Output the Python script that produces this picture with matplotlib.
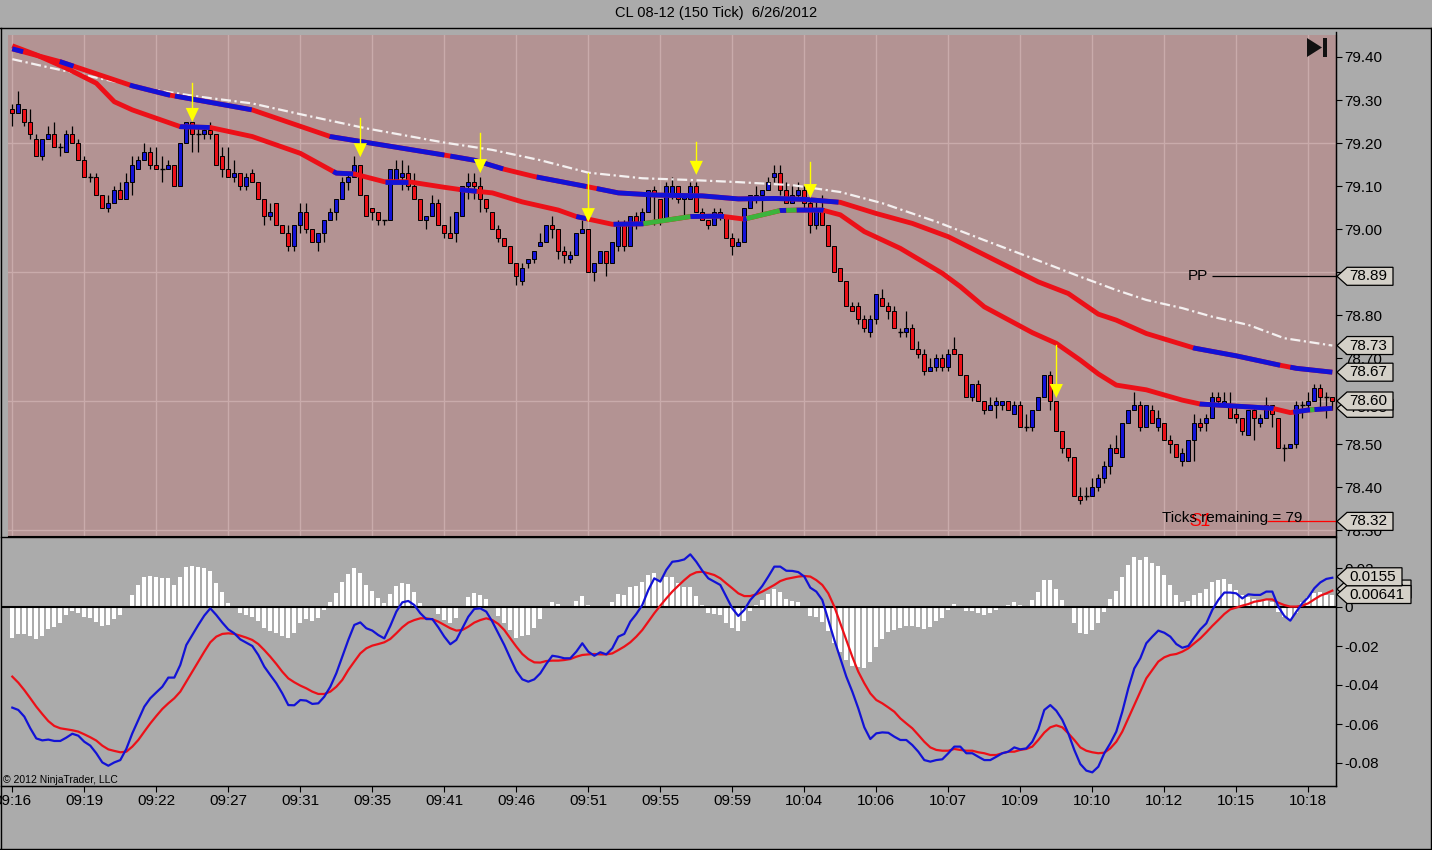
import numpy as np
import matplotlib
matplotlib.use("Agg")
import matplotlib.pyplot as plt
from matplotlib.patches import Polygon, Rectangle
from matplotlib.lines import Line2D
from matplotlib.transforms import IdentityTransform

plt.rcParams['font.family'] = ['Liberation Sans', 'DejaVu Sans']

# ---- data (150 tick bars, CL 08-12) ----
opens = [79.28,79.27,79.28,79.25,79.21,79.17,79.21,79.22,79.19,79.18,
         79.22,79.20,79.16,79.12,79.12,79.08,79.05,79.06,79.09,79.07,
         79.11,79.14,79.16,79.18,79.15,79.14,79.14,79.15,79.10,79.20,
         79.25,79.22,79.22,79.23,79.22,79.17,79.14,79.12,79.13,79.10,
         79.13,79.11,79.07,79.03,79.06,79.01,78.99,78.96,79.01,79.04,
         79.00,78.97,78.99,79.02,79.04,79.07,79.11,79.12,79.15,79.08,
         79.05,79.04,79.02,79.02,79.11,79.12,79.13,79.10,79.07,79.02,
         79.03,79.06,79.01,78.99,78.99,79.03,79.10,79.11,79.10,79.07,
         79.04,79.00,78.98,78.96,78.92,78.88,78.92,78.93,78.96,78.97,
         79.01,79.00,78.95,78.93,78.94,78.99,79.00,78.90,78.92,78.95,
         78.92,78.96,79.01,78.96,79.03,79.01,79.04,79.09,79.07,79.02,
         79.08,79.10,79.07,79.07,79.10,79.04,79.02,79.01,79.04,79.03,
         78.98,78.96,78.97,79.05,79.07,79.08,79.09,79.12,79.13,79.09,
         79.06,79.08,79.09,79.06,79.01,79.05,79.01,78.96,78.91,78.88,
         78.82,78.82,78.79,78.76,78.79,78.84,78.82,78.81,78.76,78.76,
         78.77,78.72,78.71,78.67,78.68,78.70,78.68,78.72,78.71,78.66,
         78.61,78.64,78.60,78.58,78.59,78.59,78.60,78.57,78.59,78.54,
         78.54,78.58,78.61,78.66,78.60,78.53,78.49,78.47,78.38,78.38,
         78.38,78.40,78.42,78.45,78.49,78.47,78.55,78.58,78.59,78.54,
         78.58,78.54,78.55,78.51,78.50,78.46,78.46,78.51,78.55,78.55,
         78.56,78.61,78.59,78.59,78.57,78.56,78.52,78.58,78.55,78.56,
         78.59,78.56,78.49,78.49,78.50,78.59,78.59,78.60,78.63,78.61,78.61]
highs = [79.29,79.32,79.28,79.28,79.22,79.21,79.24,79.25,79.20,79.23,
         79.24,79.21,79.17,79.13,79.13,79.08,79.08,79.10,79.11,79.13,
         79.17,79.17,79.20,79.19,79.19,79.17,79.16,79.15,79.20,79.25,
         79.25,79.24,79.24,79.25,79.22,79.19,79.19,79.16,79.13,79.13,
         79.14,79.11,79.07,79.06,79.06,79.01,79.01,79.01,79.06,79.06,
         79.00,78.99,79.02,79.05,79.07,79.12,79.13,79.17,79.15,79.08,
         79.05,79.04,79.02,79.14,79.16,79.16,79.15,79.13,79.07,79.03,
         79.08,79.07,79.01,79.03,79.04,79.10,79.13,79.13,79.12,79.07,
         79.04,79.01,78.98,78.96,78.92,78.92,78.93,78.95,78.99,79.01,
         79.03,79.00,78.96,78.95,78.99,79.02,79.00,78.92,78.95,78.95,
         78.97,79.02,79.02,79.03,79.04,79.05,79.09,79.10,79.07,79.11,
         79.12,79.10,79.08,79.11,79.11,79.05,79.02,79.05,79.05,79.03,
         78.99,78.98,79.05,79.08,79.10,79.09,79.12,79.15,79.15,79.11,
         79.10,79.11,79.10,79.07,79.07,79.08,79.01,78.96,78.91,78.88,
         78.83,78.83,78.80,78.80,78.85,78.86,78.83,78.82,78.77,78.81,
         78.78,78.74,78.72,78.70,78.71,78.71,78.72,78.75,78.71,78.66,
         78.64,78.65,78.60,78.61,78.61,78.60,78.60,78.60,78.60,78.57,
         78.58,78.61,78.66,78.67,78.60,78.53,78.49,78.47,78.40,78.40,
         78.42,78.43,78.46,78.50,78.52,78.55,78.58,78.62,78.60,78.59,
         78.59,78.58,78.55,78.52,78.50,78.49,78.51,78.57,78.56,78.57,
         78.62,78.62,78.62,78.62,78.59,78.56,78.58,78.59,78.57,78.61,
         78.59,78.56,78.50,78.50,78.60,78.60,78.62,78.64,78.64,78.62,78.61]
lows = [79.24,79.27,79.24,79.21,79.17,79.16,79.21,79.19,79.17,79.18,
        79.20,79.16,79.12,79.11,79.08,79.05,79.04,79.06,79.07,79.07,
        79.08,79.14,79.16,79.14,79.14,79.11,79.14,79.10,79.10,79.20,
        79.18,79.18,79.21,79.21,79.15,79.12,79.12,79.11,79.09,79.09,
        79.11,79.07,79.01,79.02,79.01,78.99,78.95,78.95,78.99,78.99,
        78.97,78.95,78.97,79.02,79.02,79.07,79.09,79.12,79.08,79.03,
        79.02,79.01,79.01,79.02,79.11,79.09,79.09,79.07,79.02,79.00,
        79.03,79.01,78.98,78.98,78.97,79.03,79.07,79.07,79.04,79.04,
        79.00,78.97,78.96,78.92,78.87,78.87,78.91,78.92,78.96,78.97,
        78.98,78.93,78.92,78.92,78.94,78.99,78.90,78.88,78.92,78.89,
        78.92,78.95,78.95,78.96,79.00,79.01,79.04,79.01,79.01,79.02,
        79.07,79.06,79.03,79.07,79.04,79.02,79.00,79.01,79.02,78.98,
        78.94,78.96,78.97,79.05,79.06,79.04,79.09,79.11,79.08,79.06,
        79.06,79.07,79.05,78.99,79.00,79.01,78.96,78.90,78.88,78.82,
        78.81,78.78,78.76,78.75,78.78,78.82,78.79,78.77,78.75,78.75,
        78.72,78.70,78.66,78.67,78.67,78.67,78.67,78.71,78.66,78.61,
        78.60,78.60,78.57,78.58,78.56,78.58,78.58,78.57,78.54,78.53,
        78.53,78.58,78.61,78.58,78.53,78.48,78.46,78.38,78.36,78.37,
        78.38,78.39,78.41,78.43,78.48,78.47,78.55,78.58,78.53,78.54,
        78.55,78.53,78.51,78.48,78.47,78.45,78.46,78.46,78.53,78.53,
        78.56,78.59,78.59,78.56,78.55,78.52,78.52,78.51,78.54,78.56,
        78.54,78.49,78.46,78.49,78.49,78.56,78.58,78.60,78.58,78.56,78.58]
closes = [79.27,79.29,79.25,79.22,79.17,79.21,79.22,79.19,79.19,79.22,
          79.20,79.16,79.12,79.12,79.08,79.05,79.06,79.09,79.07,79.11,
          79.15,79.16,79.18,79.15,79.14,79.14,79.15,79.10,79.20,79.25,
          79.22,79.22,79.23,79.22,79.15,79.14,79.12,79.13,79.10,79.12,
          79.11,79.07,79.03,79.04,79.01,78.99,78.96,79.01,79.04,79.00,
          78.97,78.99,79.02,79.04,79.07,79.11,79.12,79.15,79.08,79.03,
          79.04,79.02,79.02,79.14,79.14,79.13,79.10,79.07,79.02,79.03,
          79.06,79.01,78.99,78.98,79.04,79.10,79.11,79.10,79.07,79.05,
          79.00,78.98,78.96,78.92,78.89,78.91,78.93,78.95,78.97,79.01,
          79.00,78.95,78.94,78.94,78.99,79.00,78.90,78.92,78.95,78.92,
          78.97,79.01,78.96,79.03,79.01,79.04,79.09,79.08,79.02,79.10,
          79.10,79.07,79.08,79.10,79.04,79.02,79.01,79.04,79.03,78.98,
          78.96,78.97,79.05,79.08,79.08,79.09,79.11,79.13,79.09,79.06,
          79.08,79.09,79.06,79.01,79.05,79.01,78.96,78.90,78.88,78.82,
          78.81,78.79,78.77,78.79,78.85,78.82,78.81,78.77,78.76,78.77,
          78.72,78.71,78.67,78.68,78.70,78.68,78.71,78.71,78.66,78.61,
          78.64,78.60,78.58,78.59,78.60,78.60,78.58,78.59,78.54,78.54,
          78.58,78.61,78.66,78.60,78.53,78.49,78.47,78.38,78.37,78.38,
          78.40,78.42,78.45,78.49,78.48,78.55,78.58,78.59,78.54,78.59,
          78.55,78.56,78.51,78.50,78.47,78.48,78.51,78.55,78.54,78.56,
          78.61,78.60,78.60,78.56,78.56,78.53,78.58,78.56,78.56,78.59,
          78.57,78.49,78.49,78.50,78.59,78.59,78.60,78.63,78.61,78.61,78.60]

# moving averages, read at sample bars
ma_slow_bars = [0, 8, 20, 26, 40, 53, 72, 77, 82, 87, 96, 101, 107, 115, 121, 127, 132,
                138, 144, 150, 156, 162, 167, 171, 176, 181, 184, 189, 197, 204, 211, 214, 220]
ma_slow = [79.419, 79.389, 79.333, 79.312, 79.277, 79.215, 79.172, 79.160, 79.139, 79.122,
           79.098, 79.084, 79.079, 79.077, 79.070, 79.071, 79.069, 79.062, 79.036, 79.013,
           78.982, 78.940, 78.905, 78.877, 78.850, 78.802, 78.788, 78.757, 78.723, 78.705,
           78.684, 78.676, 78.667]
ma_slow_blue = [(0, 1.8), (7.9, 10.2), (19.6, 26.3), (27.1, 39.9), (52.9, 72.0), (73.0, 81.8),
                (87.4, 95.7), (97.4, 137.7), (196.8, 211.3), (213.0, 220.0)]

ma_fast_bars = [0, 4, 9, 14, 17, 20, 28, 33, 40, 48, 54, 57, 62, 66, 72, 75, 80, 85, 91, 94,
                100, 105, 113, 118, 122, 128, 131, 135, 138, 142, 148, 155, 158, 162, 170, 174,
                178, 181, 184, 189, 195, 198, 204, 210, 213, 216, 220]
ma_fast = [79.426, 79.405, 79.374, 79.339, 79.296, 79.277, 79.238, 79.236, 79.215, 79.176,
           79.130, 79.128, 79.110, 79.110, 79.097, 79.091, 79.084, 79.063, 79.044, 79.029,
           79.011, 79.012, 79.029, 79.030, 79.023, 79.043, 79.044, 79.044, 79.033, 78.994,
           78.955, 78.897, 78.866, 78.819, 78.759, 78.734, 78.695, 78.663, 78.637, 78.626,
           78.602, 78.593, 78.588, 78.583, 78.573, 78.579, 78.583]
ma_fast_blue = [(27.9, 32.9), (53.5, 56.8), (62.1, 66.0), (74.6, 77.4), (94.0, 95.7),
                (100.2, 105.2), (113.0, 118.6), (121.8, 122.4), (127.9, 129.0), (130.7, 135.2),
                (197.9, 210.2), (213.5, 216.3), (217.0, 220.0)]
ma_fast_green = [(105.2, 113.0), (122.4, 127.9), (129.0, 130.7), (216.3, 217.0)]

ma_long_bars = [0, 6, 14, 23, 31, 40, 48, 59, 72, 80, 88, 96, 105, 113, 121, 130, 138, 145,
                154, 162, 170, 178, 184, 189, 195, 200, 206, 212, 220]
ma_long = [79.395, 79.376, 79.352, 79.325, 79.308, 79.292, 79.267, 79.234, 79.201, 79.184,
           79.160, 79.131, 79.118, 79.114, 79.109, 79.102, 79.086, 79.060, 79.017, 78.974,
           78.932, 78.889, 78.858, 78.835, 78.816, 78.796, 78.777, 78.746, 78.729]

arrow_bars = [30, 58, 78, 96, 114, 133, 174]
arrow_tips = [79.249, 79.167, 79.130, 79.016, 79.126, 79.072, 78.607]
arrow_tops = [79.340, 79.258, 79.223, 79.130, 79.202, 79.156, 78.730]

pivot_pp = 78.89
pivot_s1 = 78.32
ticks_remaining = 79

# MACD panel
macd = [-0.0516,-0.0528,-0.0562,-0.0622,-0.0674,-0.0684,-0.0680,-0.0687,-0.0687,-0.0670,
        -0.0650,-0.0660,-0.0691,-0.0711,-0.0750,-0.0797,-0.0814,-0.0797,-0.0785,-0.0728,
        -0.0648,-0.0579,-0.0511,-0.0468,-0.0438,-0.0409,-0.0362,-0.0362,-0.0297,-0.0195,
        -0.0144,-0.0092,-0.0044,-0.0007,-0.0041,-0.0080,-0.0115,-0.0135,-0.0166,-0.0183,
        -0.0200,-0.0246,-0.0306,-0.0349,-0.0391,-0.0443,-0.0503,-0.0504,-0.0477,-0.0480,
        -0.0497,-0.0494,-0.0460,-0.0409,-0.0340,-0.0255,-0.0169,-0.0092,-0.0079,-0.0109,
        -0.0121,-0.0144,-0.0161,-0.0097,-0.0024,0.0024,0.0031,0.0010,-0.0032,-0.0062,
        -0.0062,-0.0104,-0.0152,-0.0191,-0.0169,-0.0109,-0.0050,-0.0010,-0.0007,-0.0024,
        -0.0075,-0.0135,-0.0195,-0.0263,-0.0328,-0.0371,-0.0383,-0.0371,-0.0340,-0.0292,
        -0.0250,-0.0255,-0.0263,-0.0263,-0.0229,-0.0186,-0.0229,-0.0250,-0.0232,-0.0243,
        -0.0212,-0.0152,-0.0138,-0.0075,-0.0036,0.0010,0.0087,0.0147,0.0130,0.0190,
        0.0232,0.0236,0.0244,0.0270,0.0232,0.0186,0.0147,0.0130,0.0113,0.0053,
        -0.0007,-0.0046,-0.0015,0.0036,0.0070,0.0108,0.0156,0.0207,0.0207,0.0186,
        0.0185,0.0179,0.0156,0.0099,0.0079,0.0036,-0.0067,-0.0169,-0.0263,-0.0357,
        -0.0434,-0.0520,-0.0617,-0.0677,-0.0648,-0.0643,-0.0645,-0.0665,-0.0682,-0.0682,
        -0.0708,-0.0742,-0.0785,-0.0793,-0.0785,-0.0781,-0.0750,-0.0716,-0.0716,-0.0750,
        -0.0750,-0.0768,-0.0785,-0.0785,-0.0768,-0.0750,-0.0742,-0.0720,-0.0730,-0.0725,
        -0.0691,-0.0627,-0.0528,-0.0503,-0.0532,-0.0579,-0.0648,-0.0733,-0.0805,-0.0839,
        -0.0848,-0.0819,-0.0750,-0.0699,-0.0639,-0.0537,-0.0417,-0.0315,-0.0263,-0.0186,
        -0.0152,-0.0121,-0.0132,-0.0152,-0.0190,-0.0209,-0.0200,-0.0156,-0.0115,-0.0084,
        -0.0015,0.0036,0.0074,0.0074,0.0070,0.0044,0.0065,0.0062,0.0062,0.0079,
        0.0079,0.0002,-0.0046,-0.0070,-0.0024,0.0019,0.0050,0.0096,0.0126,0.0144,0.0150]
signal = [-0.0357,-0.0388,-0.0426,-0.0468,-0.0511,-0.0549,-0.0585,-0.0610,-0.0622,-0.0627,
          -0.0632,-0.0639,-0.0653,-0.0668,-0.0685,-0.0711,-0.0730,-0.0738,-0.0745,-0.0742,
          -0.0716,-0.0682,-0.0639,-0.0597,-0.0559,-0.0523,-0.0494,-0.0468,-0.0434,-0.0383,
          -0.0332,-0.0280,-0.0229,-0.0181,-0.0152,-0.0138,-0.0135,-0.0138,-0.0147,-0.0157,
          -0.0169,-0.0190,-0.0221,-0.0255,-0.0292,-0.0332,-0.0366,-0.0386,-0.0403,-0.0417,
          -0.0434,-0.0446,-0.0446,-0.0434,-0.0409,-0.0374,-0.0323,-0.0280,-0.0238,-0.0212,
          -0.0198,-0.0190,-0.0181,-0.0164,-0.0135,-0.0104,-0.0080,-0.0067,-0.0058,-0.0058,
          -0.0063,-0.0075,-0.0092,-0.0109,-0.0121,-0.0118,-0.0101,-0.0080,-0.0067,-0.0058,
          -0.0067,-0.0087,-0.0118,-0.0161,-0.0203,-0.0241,-0.0267,-0.0284,-0.0285,-0.0277,
          -0.0275,-0.0275,-0.0272,-0.0267,-0.0255,-0.0246,-0.0243,-0.0241,-0.0243,-0.0243,
          -0.0238,-0.0221,-0.0203,-0.0181,-0.0152,-0.0118,-0.0075,-0.0032,0.0007,0.0044,
          0.0079,0.0109,0.0138,0.0164,0.0178,0.0181,0.0173,0.0164,0.0147,0.0121,
          0.0096,0.0070,0.0056,0.0056,0.0065,0.0079,0.0096,0.0113,0.0133,0.0144,
          0.0150,0.0156,0.0159,0.0156,0.0138,0.0113,0.0070,0.0002,-0.0084,-0.0169,
          -0.0255,-0.0332,-0.0391,-0.0443,-0.0477,-0.0494,-0.0515,-0.0537,-0.0571,-0.0597,
          -0.0622,-0.0656,-0.0691,-0.0720,-0.0733,-0.0737,-0.0737,-0.0728,-0.0733,-0.0737,
          -0.0737,-0.0745,-0.0750,-0.0759,-0.0759,-0.0750,-0.0742,-0.0742,-0.0733,-0.0728,
          -0.0716,-0.0682,-0.0644,-0.0617,-0.0607,-0.0617,-0.0648,-0.0682,-0.0720,-0.0737,
          -0.0745,-0.0750,-0.0747,-0.0725,-0.0691,-0.0639,-0.0571,-0.0503,-0.0434,-0.0366,
          -0.0323,-0.0280,-0.0258,-0.0246,-0.0241,-0.0229,-0.0212,-0.0186,-0.0161,-0.0130,
          -0.0097,-0.0067,-0.0036,-0.0012,-0.0003,0.0007,0.0015,0.0027,0.0032,0.0039,
          0.0039,0.0022,0.0010,0.0002,0.0002,0.0007,0.0019,0.0039,0.0058,0.0070,0.0084]
hist = [-0.0157,-0.0140,-0.0140,-0.0147,-0.0166,-0.0149,-0.0115,-0.0104,-0.0080,-0.0041,
        -0.0021,-0.0032,-0.0053,-0.0058,-0.0075,-0.0096,-0.0092,-0.0063,-0.0041,-0.0003,
        0.0062,0.0113,0.0156,0.0159,0.0156,0.0150,0.0150,0.0113,0.0156,0.0207,
        0.0210,0.0207,0.0198,0.0185,0.0121,0.0075,0.0019,0.0000,-0.0032,-0.0041,
        -0.0050,-0.0072,-0.0109,-0.0121,-0.0132,-0.0149,-0.0161,-0.0132,-0.0080,-0.0062,
        -0.0070,-0.0058,-0.0015,0.0024,0.0070,0.0130,0.0168,0.0198,0.0176,0.0113,
        0.0082,0.0044,0.0022,0.0067,0.0108,0.0125,0.0116,0.0075,0.0022,-0.0007,
        -0.0007,-0.0036,-0.0067,-0.0084,-0.0055,-0.0002,0.0050,0.0070,0.0062,0.0041,
        -0.0003,-0.0046,-0.0084,-0.0118,-0.0161,-0.0147,-0.0144,-0.0106,-0.0062,-0.0003,
        0.0024,0.0015,0.0005,0.0002,0.0031,0.0056,0.0010,0.0002,0.0002,0.0002,
        0.0026,0.0065,0.0062,0.0104,0.0108,0.0126,0.0164,0.0173,0.0135,0.0152,
        0.0152,0.0125,0.0104,0.0104,0.0056,0.0010,-0.0029,-0.0036,-0.0041,-0.0080,
        -0.0109,-0.0121,-0.0070,-0.0019,0.0010,0.0036,0.0067,0.0092,0.0079,0.0041,
        0.0031,0.0026,-0.0002,-0.0046,-0.0053,-0.0075,-0.0121,-0.0183,-0.0229,-0.0272,
        -0.0303,-0.0306,-0.0311,-0.0284,-0.0203,-0.0164,-0.0130,-0.0118,-0.0109,-0.0096,
        -0.0097,-0.0101,-0.0115,-0.0104,-0.0072,-0.0058,-0.0015,0.0014,0.0003,-0.0019,
        -0.0019,-0.0029,-0.0041,-0.0029,-0.0015,0.0003,0.0009,0.0027,0.0009,0.0005,
        0.0036,0.0075,0.0138,0.0138,0.0091,0.0036,-0.0002,-0.0084,-0.0132,-0.0138,
        -0.0118,-0.0080,-0.0024,0.0039,0.0082,0.0156,0.0215,0.0258,0.0241,0.0258,
        0.0227,0.0210,0.0164,0.0113,0.0062,0.0027,0.0031,0.0062,0.0074,0.0091,
        0.0130,0.0138,0.0142,0.0118,0.0087,0.0062,0.0050,0.0039,0.0032,0.0036,
        0.0027,-0.0024,-0.0050,-0.0067,-0.0029,0.0027,0.0053,0.0074,0.0079,0.0062,0.0062]

time_labels = ['09:16', '09:19', '09:22', '09:27', '09:31', '09:35', '09:41', '09:46', '09:51',
               '09:55', '09:59', '10:04', '10:06', '10:07', '10:09', '10:10', '10:12', '10:15',
               '10:18']
bars_per_label = 12
price_ticks = [79.40, 79.30, 79.20, 79.10, 79.00, 78.90, 78.80, 78.70, 78.60, 78.50, 78.40, 78.30]
price_grid = [79.20, 78.90, 78.60, 78.30]
macd_ticks = [0.02, 0.0, -0.02, -0.04, -0.06, -0.08]
macd_tick_labels = ['0.02', '0', '-0.02', '-0.04', '-0.06', '-0.08']
hidden_tag_value = 0.0092

n = len(closes)
for arr in (opens, highs, lows, macd, signal, hist):
    assert len(arr) == n, len(arr)

# ---- colours ----
GRAY = '#ababab'
PINK = '#b39393'
GRID = '#c9abab'
RED = '#ec1018'
BLUE = '#1212d6'
GREEN = '#3cb43c'
TAG = '#d4d0c8'

W, H = 1432, 850
fig = plt.figure(figsize=(W / 100, H / 100), dpi=100, facecolor=GRAY)


def fx(px):
    return px / W


def fy(py):
    return 1 - py / H


# bar i sits at pixel 12.3 + 6 i
def bar_at(px):
    return (px - 12.3) / 6.0


ax1 = fig.add_axes([fx(8), fy(536), fx(1336) - fx(8), fy(35) - fy(536)])
ax2 = fig.add_axes([fx(1), fy(786), fx(1336) - fx(1), fy(538) - fy(786)])

ax1.set_xlim(bar_at(8), bar_at(1336))
ax1.set_ylim(79.40 - (536 - 57) / 430, 79.40 + (57 - 35) / 430)
ax2.set_xlim(bar_at(1), bar_at(1336))
ax2.set_ylim((607 - 786) / 1950, (607 - 538) / 1950)

ax1.set_facecolor(PINK)
ax2.set_facecolor(GRAY)

idx = np.arange(n)
o = np.array(opens)
h = np.array(highs)
l = np.array(lows)
c = np.array(closes)

# grid
grid_bars = np.arange(0, n, bars_per_label)
for gb in grid_bars:
    ax1.axvline(gb, color=GRID, lw=1, zorder=0.5)
for gp in price_grid:
    ax1.axhline(gp, color=GRID, lw=1, zorder=0.5)

# candles
ax1.vlines(idx, l, h, color='black', lw=0.9, zorder=3)
body_lo = np.minimum(o, c)
body_h = np.abs(c - o)
has_body = body_h > 0.004
cols = np.where(c > o, BLUE, RED)
ax1.bar(idx[has_body], body_h[has_body], 0.72, bottom=body_lo[has_body],
        color=cols[has_body], edgecolor='black', lw=0.7, zorder=4)
ax1.hlines(c[~has_body], idx[~has_body] - 0.4, idx[~has_body] + 0.4,
           color='black', lw=1.0, zorder=4)


def span_line(ax, xs, ys, spans, color, lw, z):
    for a, b in spans:
        px = [a] + [x for x in xs if a < x < b] + [b]
        py = [np.interp(a, xs, ys)] + [y for x, y in zip(xs, ys) if a < x < b] + [np.interp(b, xs, ys)]
        ax.plot(px, py, color=color, lw=lw, solid_capstyle='butt', zorder=z)


# white long average (dash-dot)
ax1.plot(ma_long_bars, ma_long, color='#f4f0f0', lw=1.6, dashes=(4.5, 1.6, 1.0, 1.6), zorder=5)
# slower thick average
ax1.plot(ma_slow_bars, ma_slow, color=RED, lw=3.5, solid_capstyle='butt', zorder=6)
span_line(ax1, ma_slow_bars, ma_slow, ma_slow_blue, BLUE, 3.5, 6.1)
# faster thick average
ax1.plot(ma_fast_bars, ma_fast, color=RED, lw=3.5, solid_capstyle='butt', zorder=6)
span_line(ax1, ma_fast_bars, ma_fast, ma_fast_blue, BLUE, 3.5, 6.1)
span_line(ax1, ma_fast_bars, ma_fast, ma_fast_green, GREEN, 3.5, 6.1)

# yellow arrows
head_h = 14 / 430
for ab, tip, top in zip(arrow_bars, arrow_tips, arrow_tops):
    ax1.plot([ab, ab], [tip + head_h * 0.5, top], color='#ffff00', lw=1.0, zorder=7)
    ax1.add_patch(Polygon([[ab - 1.1, tip + head_h], [ab + 1.1, tip + head_h], [ab, tip]],
                          closed=True, facecolor='#ffff00', edgecolor='none', zorder=7))

# pivot lines and texts
ax1.hlines(pivot_pp, bar_at(1212), bar_at(1336), color='black', lw=0.9, zorder=5)
ax1.text(bar_at(1208), pivot_pp, 'PP', ha='right', va='center', fontsize=11, zorder=8)
ax1.hlines(pivot_s1, bar_at(1267), bar_at(1336), color='#ff0000', lw=0.9, zorder=5)
ax1.text(bar_at(1189), pivot_s1, 'S1', ha='left', va='center', fontsize=13, color='#ff0000',
         style='italic', zorder=7)
ax1.text(bar_at(1302), pivot_s1 + 0.007, 'Ticks remaining = %d' % ticks_remaining,
         ha='right', va='center', fontsize=11, zorder=8)

# axes cosmetics
for ax in (ax1, ax2):
    for side in ('left', 'top'):
        ax.spines[side].set_visible(False)
    ax.spines['right'].set_color('black')
    ax.spines['bottom'].set_color('black')
    ax.yaxis.tick_right()
    ax.tick_params(axis='y', direction='out', length=4, width=0.8, pad=2, labelsize=11,
                   colors='black')

ax1.set_yticks(price_ticks)
ax1.set_yticklabels(['%.2f' % v for v in price_ticks])
ax1.set_xticks(grid_bars)
ax1.tick_params(axis='x', length=0, labelbottom=False)

# MACD panel
ax2.bar(idx, hist, 0.68, color='white', edgecolor='none', zorder=2)
ax2.axhline(0, color='black', lw=1.5, zorder=2.5)
ax2.plot(idx, signal, color=RED, lw=1.6, zorder=3)
ax2.plot(idx, macd, color=BLUE, lw=1.6, zorder=3.1)
ax2.set_yticks(macd_ticks)
ax2.set_yticklabels(macd_tick_labels)
ax2.set_xticks(grid_bars)
ax2.set_xticklabels(time_labels)
ax2.tick_params(axis='x', direction='out', length=4, width=0.8, pad=2, labelsize=11)

# ---- figure furniture in pixel coordinates ----
ID = IdentityTransform()


def hline_px(x0, x1, y, **kw):
    fig.add_artist(Line2D([x0, x1], [H - y, H - y], transform=ID, **kw))


def vline_px(x, y0, y1, **kw):
    fig.add_artist(Line2D([x, x], [H - y0, H - y1], transform=ID, **kw))


hline_px(0, W, 27.5, color='black', lw=1)
hline_px(0, W, 848.5, color='black', lw=1)
vline_px(0.8, 27.5, 849, color='black', lw=1)
vline_px(W - 1.2, 27.5, 849, color='black', lw=1)
vline_px(1336, 32, 786, color='black', lw=1)
hline_px(1, 1336, 536.5, color='black', lw=1)
hline_px(1, 1336, 786, color='black', lw=1)

fig.text(fx(716), fy(13), 'CL 08-12 (150 Tick)  6/26/2012', ha='center', va='center', fontsize=10.5)
fig.text(fx(3), fy(780), '\u00a9 2012 NinjaTrader, LLC', ha='left', va='center', fontsize=7.5)

# play-to-end icon
fig.add_artist(Polygon([[1307, H - 38], [1307, H - 57], [1322, H - 47.5]], closed=True,
                       transform=ID, facecolor='#111111', edgecolor='none'))
fig.add_artist(Rectangle((1323, H - 57), 3.5, 19, transform=ID, facecolor='#111111',
                         edgecolor='none'))


def tag(ax, value, text, z=3):
    y = ax.transData.transform((0, value))[1]
    w = 9 * len(text) + 1
    pts = [[1337, y], [1347, y + 9], [1347 + w, y + 9], [1347 + w, y - 9], [1347, y - 9]]
    fig.add_artist(Polygon(pts, closed=True, transform=ID, facecolor=TAG, edgecolor='black',
                           lw=0.9, zorder=z))
    fig.add_artist(plt.Text(1349, y, text, transform=ID, ha='left', va='center',
                            fontsize=11, color='black', zorder=z + 0.01))


tag(ax1, pivot_pp, '%.2f' % pivot_pp)
tag(ax1, ma_long[-1], '%.2f' % ma_long[-1])
tag(ax1, ma_slow[-1], '%.2f' % ma_slow[-1])
tag(ax1, ma_fast[-1], '%.2f' % ma_fast[-1], z=3)
tag(ax1, closes[-1], '%.2f' % closes[-1], z=3.1)
tag(ax1, pivot_s1, '%.2f' % pivot_s1)

tag(ax2, hidden_tag_value, '%.5f' % hidden_tag_value, z=3)
tag(ax2, macd[-1] + 0.0005, '0.0155', z=3.2)
tag(ax2, 0.00641, '0.00641', z=3.1)

fig.savefig('out.png', dpi=100, facecolor=GRAY)
